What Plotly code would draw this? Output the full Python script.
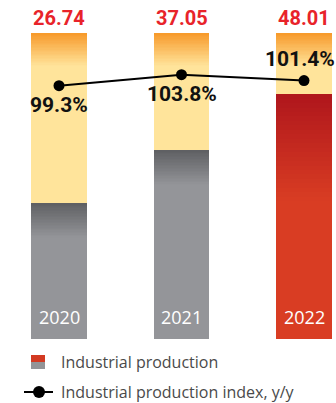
import plotly.graph_objects as go

# ---- data ----
years = ["2020", "2021", "2022"]
production = [26.74, 37.05, 48.01]           # industrial production
index_yy = [99.3, 103.8, 101.4]              # industrial production index, y/y, %
index_labels = ["99.3%", "103.8%", "101.4%"]
track_level = 60                              # height of the background track

# ---- styling ----
x_pos = list(range(len(years)))
bar_w = 0.457
track_top_c, track_bot_c = "#F7992A", "#FFE49B"
gray_top_c, gray_bot_c = "#5E5F62", "#949599"
red_top_c, red_bot_c = "#AF161C", "#D93D23"
highlight = [False, False, True]
label_font = "Roboto, sans-serif"
text_font = "Open Sans, Lato, sans-serif"
N = 24


def hex_rgb(h):
    h = h.lstrip("#")
    return tuple(int(h[i:i + 2], 16) for i in (0, 2, 4))


def mix(c_bottom, c_top, t):
    a, b = hex_rgb(c_bottom), hex_rgb(c_top)
    return "rgb(%d,%d,%d)" % tuple(round(a[i] + (b[i] - a[i]) * t) for i in range(3))


def gradient_bars(fig, tops, depths, bottoms_c, tops_c):
    """Bars from 0 to tops, shaded from bottom colour to top colour over the top `depths`."""
    fig.add_trace(go.Bar(x=x_pos, y=tops, base=[0] * len(tops), width=bar_w,
                         marker=dict(color=list(bottoms_c), line=dict(width=0)),
                         hoverinfo="skip", showlegend=False))
    for k in range(N):
        starts = [t - d + d * k / N for t, d in zip(tops, depths)]
        cols = [mix(cb, ct, (k + 0.5) / N) for cb, ct in zip(bottoms_c, tops_c)]
        fig.add_trace(go.Bar(x=x_pos, y=[t - s for t, s in zip(tops, starts)], base=starts,
                             width=bar_w, marker=dict(color=cols, line=dict(width=0)),
                             hoverinfo="skip", showlegend=False))


fig = go.Figure()

# background track
gradient_bars(fig, [track_level] * 3, [6.5] * 3, [track_bot_c] * 3, [track_top_c] * 3)

# production bars
fg_bot = [red_bot_c if h else gray_bot_c for h in highlight]
fg_top = [red_top_c if h else gray_top_c for h in highlight]
fg_depth = [21.0 if h else 6.9 for h in highlight]
gradient_bars(fig, production, fg_depth, fg_bot, fg_top)

# index line
fig.add_trace(go.Scatter(x=x_pos, y=index_yy, yaxis="y2", mode="lines+markers",
                         line=dict(color="#000000", width=2),
                         marker=dict(color="#000000", size=11),
                         hoverinfo="skip", showlegend=False, cliponaxis=False))

annotations = []
# production values above the tracks
for i, v in enumerate(production):
    annotations.append(dict(x=x_pos[i], y=track_level, xref="x", yref="y",
                            text="<b>%.2f</b>" % v, showarrow=False, yanchor="bottom", yshift=1,
                            font=dict(family=label_font, size=20, color="#E8232A")))
# year labels inside bar bottoms
for i, yr in enumerate(years):
    annotations.append(dict(x=x_pos[i], y=0, xref="x", yref="y", text=yr, showarrow=False,
                            yanchor="bottom", yshift=8,
                            font=dict(family=text_font, size=18, color="#FFFFFF")))
# index labels
shifts = [-19, -19, 22]
xshifts = [0, 0, -4]
for i, (v, t) in enumerate(zip(index_yy, index_labels)):
    annotations.append(dict(x=x_pos[i], y=v, xref="x", yref="y2", text="<b>%s</b>" % t,
                            showarrow=False, yanchor="middle", yshift=shifts[i], xshift=xshifts[i],
                            font=dict(family=label_font, size=21, color="#111111")))

# legend
plot_h = 403 - 33 - 64


def py(px):
    return (403 - 64 - px) / plot_h


shapes = [
    dict(type="rect", xref="paper", yref="paper", x0=31 / 336, x1=45 / 336, y0=py(362), y1=py(355),
         fillcolor="#D33A22", line=dict(width=0)),
    dict(type="rect", xref="paper", yref="paper", x0=31 / 336, x1=45 / 336, y0=py(369), y1=py(362),
         fillcolor="#939497", line=dict(width=0)),
    dict(type="line", xref="paper", yref="paper", x0=24 / 336, x1=53 / 336, y0=py(392), y1=py(392),
         line=dict(color="#000000", width=2)),
    dict(type="circle", xref="paper", yref="paper", x0=33 / 336, x1=45 / 336, y0=py(398), y1=py(386),
         fillcolor="#000000", line=dict(width=0)),
]
annotations.append(dict(x=59 / 336, y=py(362), xref="paper", yref="paper", xanchor="left",
                        yanchor="middle", text="Industrial production", showarrow=False,
                        font=dict(family=text_font, size=16, color="#4A4A4A")))
annotations.append(dict(x=59 / 336, y=py(392), xref="paper", yref="paper", xanchor="left",
                        yanchor="middle", text="Industrial production index, y/y", showarrow=False,
                        font=dict(family=text_font, size=16, color="#4A4A4A")))

fig.update_layout(
    width=336, height=403,
    margin=dict(l=0, r=0, t=33, b=64),
    paper_bgcolor="#FFFFFF", plot_bgcolor="#FFFFFF",
    barmode="overlay", bargap=0,
    showlegend=False, hovermode=False,
    xaxis=dict(range=[-0.4816, 2.2612], visible=False, fixedrange=True),
    yaxis=dict(range=[0, track_level], visible=False, fixedrange=True),
    yaxis2=dict(range=[-4.5, 120.9], overlaying="y", visible=False, fixedrange=True),
    annotations=annotations, shapes=shapes,
)

fig.write_html("out.html")
